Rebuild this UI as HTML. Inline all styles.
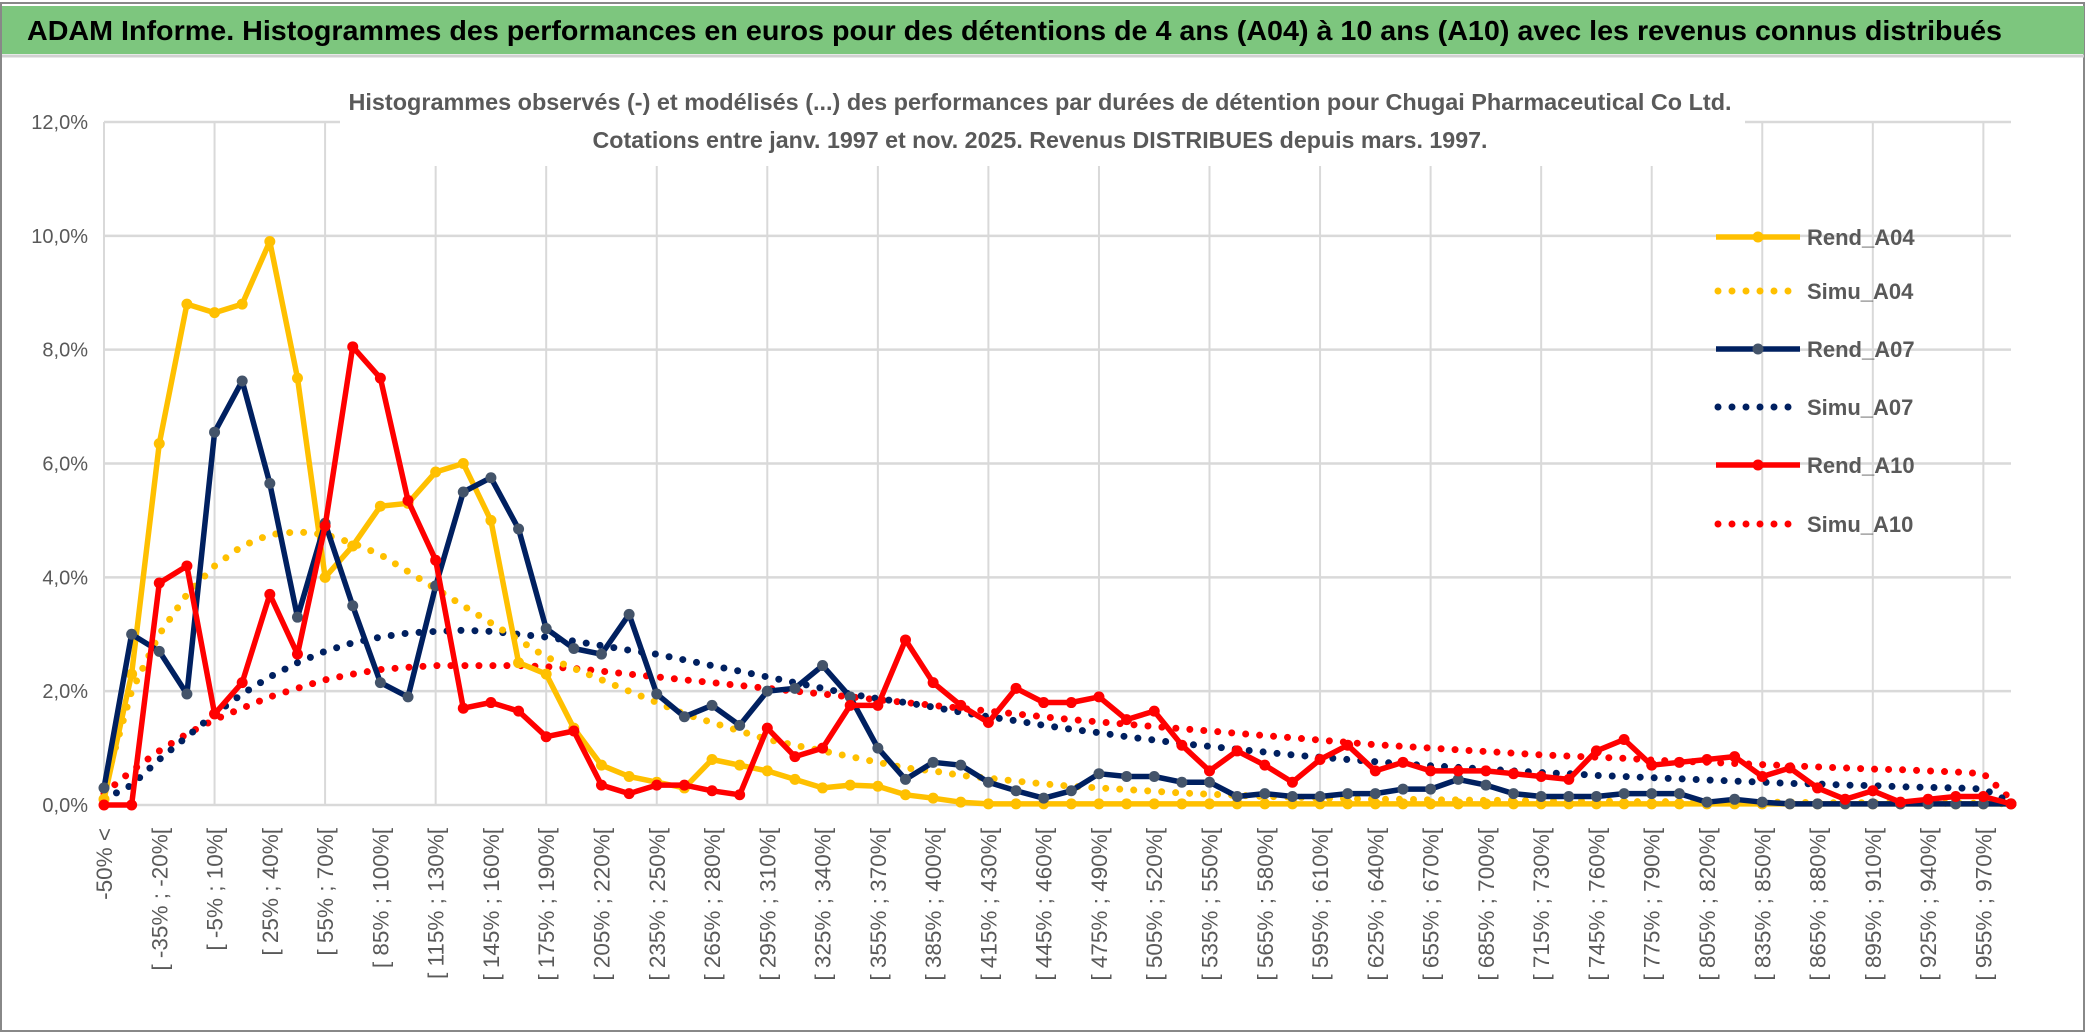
<!DOCTYPE html>
<html><head><meta charset="utf-8"><style>
html,body{margin:0;padding:0;background:#fff;}
svg{display:block;font-family:"Liberation Sans",sans-serif;}
</style></head><body>
<svg id="chart" width="2086" height="1033" viewBox="0 0 2086 1033">
<rect x="0" y="0" width="2086" height="1033" fill="#fff"/>
<rect x="1" y="3" width="2083" height="1028" fill="none" stroke="#888" stroke-width="2"/>
<rect x="2" y="6" width="2082" height="48" fill="#7DC67E"/>
<line x1="2" y1="56" x2="2084" y2="56" stroke="#d0d0d0" stroke-width="3"/>
<text x="27" y="40" font-size="28" font-weight="bold" fill="#000" textLength="1975" lengthAdjust="spacingAndGlyphs">ADAM Informe. Histogrammes des performances en euros pour des détentions de 4 ans (A04) à 10 ans (A10) avec les revenus connus distribués</text>
<g id="grid"></g>
<rect x="340" y="78" width="1405" height="88" fill="#fff"/>
<text x="1040" y="110" font-size="23" font-weight="bold" fill="#595959" text-anchor="middle" textLength="1383" lengthAdjust="spacingAndGlyphs">Histogrammes observés (-) et modélisés (...) des performances par durées de détention pour Chugai Pharmaceutical Co Ltd.</text>
<text x="1040" y="148" font-size="23" font-weight="bold" fill="#595959" text-anchor="middle" textLength="895" lengthAdjust="spacingAndGlyphs">Cotations entre janv. 1997 et nov. 2025. Revenus DISTRIBUES depuis mars. 1997.</text>
<g id="axes"></g><g id="series"></g><g id="legend"></g>
</svg>
<script>
const yTicks=[0,2,4,6,8,10,12];
const yTickLabels=["0,0%","2,0%","4,0%","6,0%","8,0%","10,0%","12,0%"];
const categories=["-50% <"];
for(let i=1;i<70;i++){const a=-50+15*(i-1);categories.push("[ "+a+"% ; "+(a+15)+"%[");}
const rendA04=[0.1,2.3,6.35,8.8,8.65,8.8,9.9,7.5,4.0,4.55,5.25,5.3,5.85,6.0,5.0,2.5,2.3,1.35,0.7,0.5,0.4,0.3,0.8,0.7,0.6,0.45,0.3,0.35,0.33,0.18,0.12,0.05,0.02,0.02,0.02,0.02,0.02,0.02,0.02,0.02,0.02,0.02,0.02,0.02,0.02,0.02,0.02,0.02,0.02,0.02,0.02,0.02,0.02,0.02,0.02,0.02,0.02,0.02,0.02,0.02,0.02,0.02,0.02,0.02,0.02,0.02,0.02,0.02,0.02,0.02];
const simuA04=[0.3,2.0,3.0,3.7,4.2,4.55,4.75,4.8,4.75,4.6,4.4,4.1,3.8,3.5,3.2,2.9,2.6,2.4,2.2,2.0,1.8,1.6,1.45,1.3,1.15,1.05,0.95,0.85,0.75,0.65,0.6,0.52,0.47,0.42,0.37,0.33,0.3,0.27,0.24,0.21,0.19,0.17,0.15,0.14,0.12,0.11,0.1,0.1,0.09,0.09,0.08,0.08,0.07,0.07,0.07,0.06,0.06,0.06,0.05,0.05,0.05,0.05,0.04,0.04,0.04,0.04,0.03,0.03,0.03,0.02];
const rendA07=[0.3,3.0,2.7,1.95,6.55,7.45,5.65,3.3,4.95,3.5,2.15,1.9,3.85,5.5,5.75,4.85,3.1,2.75,2.65,3.35,1.95,1.55,1.75,1.4,2.0,2.05,2.45,1.9,1.0,0.45,0.75,0.7,0.4,0.25,0.12,0.25,0.55,0.5,0.5,0.4,0.4,0.15,0.2,0.15,0.15,0.2,0.2,0.28,0.28,0.45,0.35,0.2,0.15,0.15,0.15,0.2,0.2,0.2,0.05,0.1,0.05,0.02,0.02,0.02,0.02,0.02,0.02,0.02,0.02,0.02];
const simuA07=[0.1,0.35,0.8,1.2,1.6,1.95,2.25,2.5,2.7,2.85,2.95,3.02,3.05,3.07,3.05,3.0,2.95,2.88,2.8,2.72,2.65,2.55,2.45,2.35,2.25,2.15,2.05,1.95,1.87,1.8,1.72,1.63,1.55,1.48,1.4,1.33,1.27,1.2,1.14,1.08,1.03,0.98,0.93,0.88,0.84,0.8,0.76,0.72,0.69,0.66,0.63,0.6,0.57,0.55,0.52,0.5,0.48,0.46,0.44,0.42,0.4,0.38,0.37,0.35,0.34,0.32,0.31,0.3,0.28,0.05];
const rendA10=[0,0,3.9,4.2,1.6,2.15,3.7,2.65,4.9,8.05,7.5,5.35,4.3,1.7,1.8,1.65,1.2,1.3,0.35,0.2,0.35,0.35,0.25,0.18,1.35,0.85,1.0,1.75,1.75,2.9,2.15,1.75,1.45,2.05,1.8,1.8,1.9,1.5,1.65,1.05,0.6,0.95,0.7,0.4,0.8,1.05,0.6,0.75,0.6,0.6,0.6,0.55,0.5,0.45,0.95,1.15,0.7,0.75,0.8,0.85,0.5,0.65,0.3,0.1,0.25,0.05,0.1,0.15,0.15,0.02];
const simuA10=[0.2,0.6,0.95,1.25,1.5,1.7,1.9,2.05,2.2,2.3,2.38,2.42,2.45,2.45,2.45,2.45,2.43,2.4,2.35,2.3,2.25,2.2,2.15,2.1,2.05,2.0,1.95,1.9,1.85,1.8,1.75,1.7,1.65,1.6,1.55,1.5,1.46,1.42,1.38,1.34,1.3,1.26,1.22,1.18,1.14,1.1,1.06,1.03,1.0,0.97,0.94,0.91,0.88,0.86,0.84,0.82,0.79,0.77,0.75,0.73,0.71,0.69,0.67,0.65,0.63,0.62,0.6,0.58,0.55,0.1];

const NS="http://www.w3.org/2000/svg";
const X0=104,X1=2011,Y0=805,Y12=122;
const xPos=i=>X0+(X1-X0)*i/(categories.length-1);
const yPos=v=>Y0-(Y0-Y12)*v/12;
function mk(tag,attrs,parent){const e=document.createElementNS(NS,tag);for(const k in attrs)e.setAttribute(k,attrs[k]);parent.appendChild(e);return e;}
const grid=document.getElementById('grid'),axes=document.getElementById('axes'),ser=document.getElementById('series'),leg=document.getElementById('legend');
yTicks.forEach((t,k)=>{
  const l=mk('line',{x1:X0,x2:X1,y1:yPos(t),y2:yPos(t),stroke:'#d9d9d9','stroke-width':2.5},grid);
  
  
  const tx=mk('text',{x:88,y:yPos(t)+7,'font-size':20,fill:'#595959','text-anchor':'end'},axes);
  tx.textContent=yTickLabels[k];
  
  
});
categories.forEach((c,i)=>{
  if(i%4===0){
    const l=mk('line',{x1:xPos(i),x2:xPos(i),y1:Y12,y2:Y0,stroke:'#d9d9d9','stroke-width':2},grid);
    
    
  }
  if(i%2===0){
    const x=xPos(i)+8,y=828;
    const tx=mk('text',{x:x,y:y,'font-size':22.5,fill:'#595959','text-anchor':'end',transform:'rotate(-90 '+x+' '+y+')'},axes);
    tx.textContent=c;
    
    
  }
});
function pts(arr){return arr.map((v,i)=>xPos(i).toFixed(1)+','+yPos(v).toFixed(1)).join(' ');}
const defs=[
 {name:'simu-a10',data:simuA10,color:'#FF0000',dot:true},
 {name:'simu-a07',data:simuA07,color:'#002060',dot:true},
 {name:'simu-a04',data:simuA04,color:'#FFC000',dot:true},
 {name:'rend-a04',data:rendA04,color:'#FFC000',mc:'#FFC000'},
 {name:'rend-a07',data:rendA07,color:'#002060',mc:'#44546A'},
 {name:'rend-a10',data:rendA10,color:'#FF0000',mc:'#FF0000'}];
defs.forEach(s=>{
  const g=mk('g',{},ser);
  
  
  if(s.dot){
    const p=mk('polyline',{points:pts(s.data),fill:'none',stroke:s.color,'stroke-width':7,'stroke-linecap':'round','stroke-dasharray':'0 14'},g);
    
    
  }else{
    const p=mk('polyline',{points:pts(s.data),fill:'none',stroke:s.color,'stroke-width':5.5,'stroke-linejoin':'round'},g);
    
    
    s.data.forEach((v,i)=>{
      const c=mk('circle',{cx:xPos(i),cy:yPos(v),r:5.5,fill:s.mc},g);
      
      
    });
  }
});
const legItems=[
 {label:'Rend_A04',color:'#FFC000',mc:'#FFC000',y:237},
 {label:'Simu_A04',color:'#FFC000',dot:true,y:291},
 {label:'Rend_A07',color:'#002060',mc:'#44546A',y:349},
 {label:'Simu_A07',color:'#002060',dot:true,y:407},
 {label:'Rend_A10',color:'#FF0000',mc:'#FF0000',y:465},
 {label:'Simu_A10',color:'#FF0000',dot:true,y:524}];
legItems.forEach(it=>{
  const g=mk('g',{},leg);
  
  
  if(it.dot){mk('line',{x1:1718,x2:1798,y1:it.y,y2:it.y,stroke:it.color,'stroke-width':7,'stroke-linecap':'round','stroke-dasharray':'0 14'},g);}
  else{mk('line',{x1:1716,x2:1800,y1:it.y,y2:it.y,stroke:it.color,'stroke-width':5.5},g);mk('circle',{cx:1758,cy:it.y,r:5.5,fill:it.mc},g);}
  const t=mk('text',{x:1807,y:it.y+8,'font-size':22,'font-weight':'bold',fill:'#595959'},g);
  t.textContent=it.label;
});
</script>
</body></html>
